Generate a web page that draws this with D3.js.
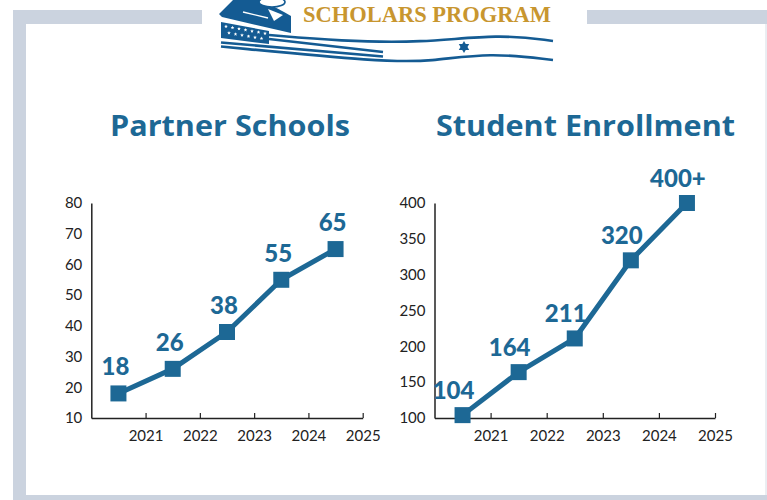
<!DOCTYPE html>
<html>
<head>
<meta charset="utf-8">
<script src="https://cdn.jsdelivr.net/npm/d3@7"></script>
<style>
  html, body { margin: 0; padding: 0; background: #ffffff; }
  svg { display: block; }
</style>
</head>
<body>
<svg id="chart" width="767" height="500"></svg>
<script>
// ---------------- DATA ----------------
const years = ["2021", "2022", "2023", "2024", "2025"];
const partnerSchools = [18, 26, 38, 55, 65];
const partnerLabels = ["18", "26", "38", "55", "65"];
const studentEnrollment = [104, 164, 211, 320, 400];
const enrollmentLabels = ["104", "164", "211", "320", "400+"];
const schoolTicks = [10, 20, 30, 40, 50, 60, 70, 80];
const enrollTicks = [100, 150, 200, 250, 300, 350, 400];
const titles = ["Partner Schools", "Student Enrollment"];
const logoText = "SCHOLARS PROGRAM";

// ---------------- STYLE ----------------
const BLUE = "#1d6895";
const LOGO_BLUE = "#145b93";
const GOLD = "#c8962f";
const FRAME = "#cbd3df";
const AXIS = "#222";

const svg = d3.select("#chart");

// ---------------- FRAME ----------------
svg.append("rect").attr("x", 13).attr("y", 10).attr("width", 13).attr("height", 490).attr("fill", FRAME);
svg.append("rect").attr("x", 13).attr("y", 10).attr("width", 189).attr("height", 14).attr("fill", FRAME);
svg.append("rect").attr("x", 587).attr("y", 10).attr("width", 180).attr("height", 14).attr("fill", FRAME);
svg.append("rect").attr("x", 13).attr("y", 495).attr("width", 754).attr("height", 5).attr("fill", FRAME);
svg.append("line").attr("x1", 766).attr("x2", 766).attr("y1", 24).attr("y2", 495)
  .attr("stroke", "#d6dce5").attr("stroke-width", 1);

// ---------------- LOGO (decorative) ----------------
const logo = svg.append("g");
logo.append("path")
  .attr("d", "M233,0 L262,0 C268,3 278,9 284,12 L291,16 L291,33 L222,17 L219,14 Z")
  .attr("fill", LOGO_BLUE);
logo.append("path").attr("d", "M243,12 L268,18").attr("stroke", "#fff").attr("stroke-width", 1.4);
logo.append("path").attr("d", "M268,9 L283,15 L274,21 Z").attr("fill", "#fff");
logo.append("ellipse").attr("cx", 272).attr("cy", 2).attr("rx", 13).attr("ry", 5)
  .attr("fill", "#fff").attr("stroke", LOGO_BLUE).attr("stroke-width", 1.6);
logo.append("path").attr("d", "M221,22 L269,31 L269,44 L221,38 Z").attr("fill", LOGO_BLUE);
const starPath = (cx, cy, r) => {
  const pts = [];
  for (let i = 0; i < 10; i++) {
    const a = -Math.PI / 2 + i * Math.PI / 5;
    const rr = i % 2 === 0 ? r : r * 0.45;
    pts.push([cx + rr * Math.cos(a), cy + rr * Math.sin(a)]);
  }
  return "M" + pts.map(p => p.join(",")).join("L") + "Z";
};
for (let i = 0; i < 7; i++) {
  logo.append("path").attr("d", starPath(226 + i * 6.5, 26.5 + i * 1.15, 1.9)).attr("fill", "#fff");
}
for (let i = 0; i < 6; i++) {
  logo.append("path").attr("d", starPath(229 + i * 6.5, 33 + i * 1.1, 1.9)).attr("fill", "#fff");
}
const wave = d3.line().curve(d3.curveBasis);
const stripes = [
  [[269, 35], [340, 41], [420, 43], [500, 34], [553, 41]],
  [[269, 39], [383, 52]],
  [[221, 42.5], [383, 56.5]],
  [[221, 46.5], [383, 62], [430, 61.5], [490, 52.5], [553, 60]]
];
stripes.forEach(s => {
  logo.append("path").attr("d", wave(s)).attr("fill", "none")
    .attr("stroke", LOGO_BLUE).attr("stroke-width", 2.6);
});
const tri = (cx, cy, r, rot) => {
  const pts = [0, 1, 2].map(k => {
    const a = rot + k * 2 * Math.PI / 3;
    return [cx + r * Math.cos(a), cy + r * Math.sin(a)];
  });
  return "M" + pts.map(p => p.join(",")).join("L") + "Z";
};
logo.append("path").attr("d", tri(464, 47, 6, -Math.PI / 2)).attr("fill", LOGO_BLUE);
logo.append("path").attr("d", tri(464, 47, 6, Math.PI / 2)).attr("fill", LOGO_BLUE);
logo.append("text")
  .attr("x", 303).attr("y", 22)
  .attr("textLength", 248).attr("lengthAdjust", "spacingAndGlyphs")
  .attr("font-family", "'Liberation Serif', 'DejaVu Serif', serif")
  .attr("font-weight", "bold").attr("font-size", 24)
  .attr("fill", GOLD)
  .text(logoText);

// ---------------- CHARTS ----------------
const panels = [
  { title: titles[0], titleX: 110, titleW: 240, x0: 91.3, x1: 362.7, values: partnerSchools, labels: partnerLabels,
    domain: [10, 80], ticks: schoolTicks, labelDx: -3, labelDy: -18 },
  { title: titles[1], titleX: 436, titleW: 299, x0: 434.5, x1: 715, values: studentEnrollment, labels: enrollmentLabels,
    domain: [100, 400], ticks: enrollTicks, labelDx: -9, labelDy: -16 }
];

const yBottom = 418, yTop = 203;

panels.forEach(p => {
  const g = svg.append("g");

  g.append("text")
    .attr("x", p.titleX).attr("y", 136)
    .attr("textLength", p.titleW).attr("lengthAdjust", "spacingAndGlyphs")
    .attr("font-family", "'Open Sans', Lato, sans-serif")
    .attr("font-weight", "bold").attr("font-size", 29)
    .attr("fill", BLUE)
    .text(p.title);

  const x = d3.scaleLinear().domain([0, years.length]).range([p.x0, p.x1]);
  const y = d3.scaleLinear().domain(p.domain).range([yBottom, yTop]);

  const xAxis = d3.axisBottom(x)
    .tickValues(d3.range(1, years.length + 1))
    .tickFormat(i => years[i - 1])
    .tickSizeInner(-5).tickSizeOuter(0).tickPadding(12);
  const gx = g.append("g").attr("transform", `translate(0,${yBottom})`).call(xAxis);
  gx.select(".domain").attr("stroke", AXIS).attr("stroke-width", 1.5);
  gx.selectAll(".tick line").attr("stroke", AXIS).attr("stroke-width", 1.2);
  gx.selectAll(".tick text")
    .attr("font-family", "Lato, 'Open Sans', sans-serif")
    .attr("font-size", 15).attr("fill", AXIS);

  const yAxis = d3.axisLeft(y).tickValues(p.ticks).tickSize(0).tickPadding(9);
  const gy = g.append("g").attr("transform", `translate(${p.x0},0)`).call(yAxis);
  gy.select(".domain").attr("stroke", AXIS).attr("stroke-width", 1.5);
  gy.selectAll(".tick text")
    .attr("font-family", "Lato, 'Open Sans', sans-serif")
    .attr("font-size", 15).attr("fill", AXIS);

  const pts = p.values.map((v, i) => [x(i + 0.5), y(v)]);

  g.append("path")
    .attr("d", d3.line()(pts))
    .attr("fill", "none").attr("stroke", BLUE)
    .attr("stroke-width", 5).attr("stroke-linejoin", "round");

  g.selectAll(".marker").data(pts).enter().append("rect")
    .attr("x", d => d[0] - 8).attr("y", d => d[1] - 8)
    .attr("width", 16).attr("height", 16)
    .attr("fill", BLUE);

  g.selectAll(".vlabel").data(pts).enter().append("text")
    .attr("x", d => d[0] + p.labelDx).attr("y", d => d[1] + p.labelDy)
    .attr("text-anchor", "middle")
    .attr("font-family", "Lato, 'Open Sans', sans-serif")
    .attr("font-weight", 900).attr("font-size", 24)
    .attr("fill", BLUE)
    .text((d, i) => p.labels[i]);
});
</script>
</body>
</html>
